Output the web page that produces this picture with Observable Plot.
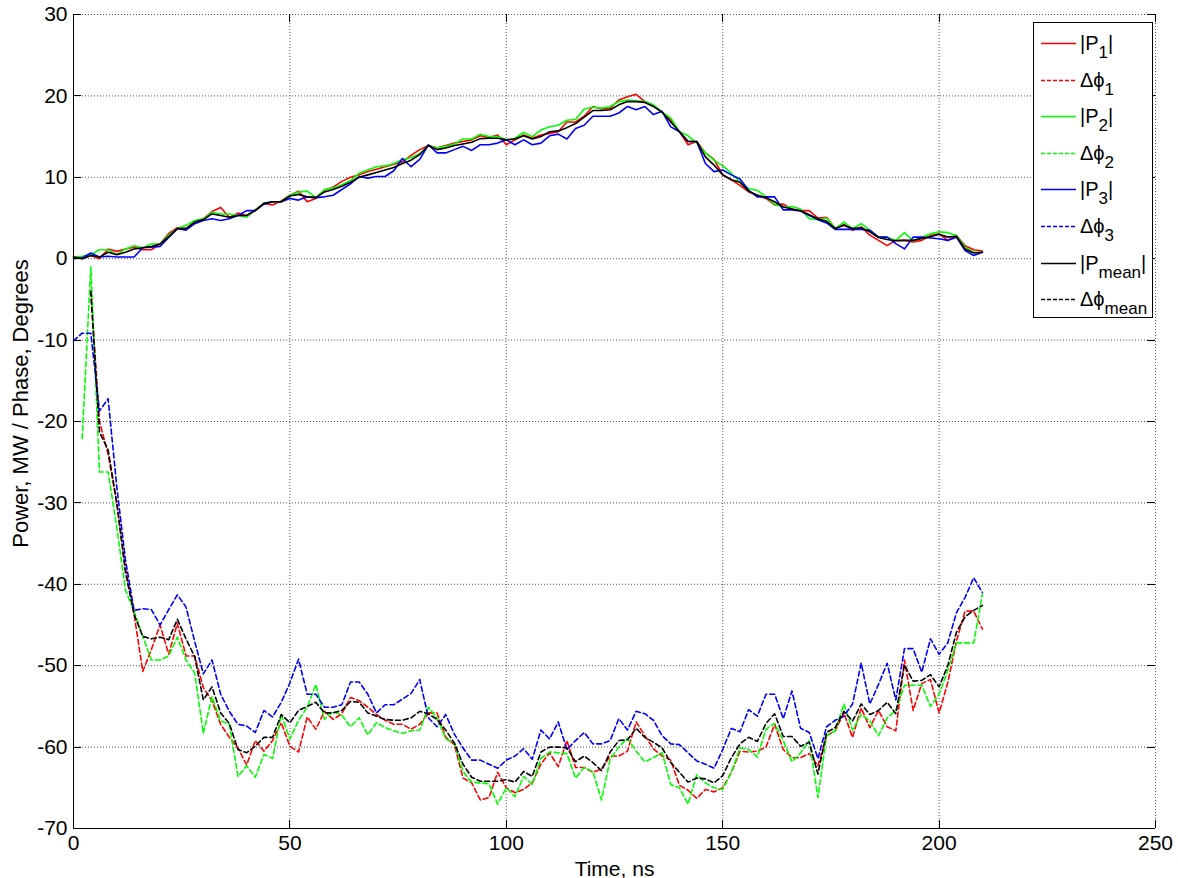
<!DOCTYPE html>
<html><head><meta charset="utf-8">
<script src="https://cdn.jsdelivr.net/npm/d3@7"></script>
<script src="https://cdn.jsdelivr.net/npm/@observablehq/plot@0.6"></script>
<style>
body{margin:0;background:#fff;font-family:"Liberation Sans",Arial,sans-serif}
#wrap{position:relative;width:1178px;height:878px;overflow:hidden}
#legend{position:absolute;left:1033px;top:22px}
</style>
</head><body><div id="wrap"></div>
<script>
// sample times, ns (2 ns sampling)
const time = d3.range(0, 211, 2);
const xTicks = [0, 50, 100, 150, 200, 250];
const yTicks = [-70, -60, -50, -40, -30, -20, -10, 0, 10, 20, 30];

const P1 = [
 0.3,0.0,0.4,0.0,1.2,0.9,1.2,1.4,1.1,1.1,
 1.8,3.1,3.8,3.7,4.5,4.9,5.8,6.3,5.1,5.6,
 5.3,6.0,6.8,6.6,7.1,7.8,8.3,7.0,7.4,8.4,
 8.8,9.5,10.0,10.3,10.7,11.0,11.3,11.6,11.9,12.7,
 13.4,13.9,13.6,13.9,14.2,14.4,14.6,15.1,14.9,15.2,
 14.0,14.6,15.2,14.8,15.2,15.4,15.6,16.8,16.8,17.5,
 18.7,18.4,18.5,19.5,19.9,20.2,19.3,18.8,18.0,17.0,
 15.6,14.0,14.4,13.0,12.2,10.3,9.7,9.0,8.2,7.8,
 7.4,6.6,6.7,6.1,5.9,5.9,5.0,5.1,3.7,4.2,
 3.5,3.9,2.9,2.25,1.6,2.25,2.25,2.05,2.25,2.85,
 3.05,2.25,2.85,1.6,1.1,0.95];
const P2 = [
 0.2,0.3,0.5,1.1,1.1,0.5,1.2,1.6,1.35,1.8,
 1.8,2.9,3.7,4.1,4.7,4.9,5.7,5.5,5.5,5.3,
 5.1,6.0,6.8,7.0,7.0,7.8,8.2,8.3,7.5,8.5,
 8.7,9.1,9.6,10.5,10.9,11.3,11.4,11.7,12.2,12.4,
 12.9,13.9,13.6,13.8,14.1,14.7,14.7,15.3,15.0,15.0,
 14.6,14.8,15.5,15.0,15.8,16.2,16.4,17.0,17.1,18.4,
 18.6,18.5,18.7,19.3,19.5,19.4,19.3,18.9,18.0,17.3,
 15.6,15.1,14.2,13.0,12.1,11.4,10.5,9.4,8.6,8.4,
 7.6,6.7,6.35,6.4,6.1,4.9,4.8,5.0,3.7,4.5,
 3.7,4.3,3.5,2.65,2.65,2.25,3.2,2.2,2.65,3.05,
 3.3,3.2,2.85,1.4,0.8,0.8];
const P3 = [
 0.0,0.1,0.7,0.2,0.3,0.2,0.2,0.2,1.35,1.4,
 1.5,2.6,3.7,3.5,4.3,4.7,4.9,4.7,4.9,5.3,
 5.9,5.9,6.7,7.0,7.0,7.4,7.2,7.6,7.5,7.6,
 7.8,8.5,9.2,10.1,9.9,10.1,10.1,10.8,12.3,11.3,
 12.2,14.0,13.0,13.0,13.4,13.8,13.3,14.0,14.0,14.2,
 14.6,14.0,14.6,14.0,14.2,15.1,15.3,14.7,16.0,16.4,
 17.5,17.5,17.5,17.9,18.7,18.3,18.7,17.7,18.1,16.2,
 15.6,14.4,14.4,11.7,10.7,10.9,10.3,9.8,8.4,7.6,
 7.6,7.6,6.0,6.0,5.85,5.3,4.8,4.4,3.6,3.6,
 3.6,3.6,3.5,2.65,2.65,1.85,1.2,2.65,2.65,2.55,
 2.45,2.25,2.65,1.0,0.4,0.8];
const Pmean = [
 0.2,0.0,0.4,0.2,0.8,0.5,0.8,1.2,1.35,1.5,
 1.8,2.7,3.7,3.7,4.5,4.8,5.5,5.3,5.1,5.3,
 5.3,5.9,6.8,7.0,7.0,7.7,7.9,7.6,7.5,8.2,
 8.5,8.9,9.4,10.0,10.3,10.6,10.9,11.2,11.7,12.1,
 12.8,13.9,13.4,13.6,13.9,14.1,14.3,14.75,14.8,14.8,
 14.6,14.7,15.1,14.7,15.0,15.6,15.7,16.1,16.6,17.4,
 18.2,18.2,18.3,18.9,19.3,19.3,19.2,18.7,18.0,16.8,
 15.6,14.4,14.4,12.5,11.5,10.3,9.7,9.4,8.3,7.8,
 7.5,7.0,6.35,6.1,5.9,5.4,4.9,4.6,3.7,4.1,
 3.7,3.8,3.3,2.6,2.35,2.2,2.25,2.25,2.5,2.7,
 3.0,2.65,2.75,1.2,0.7,0.8];

const phi1 = [
 null,null,-4,-20,-24,-30,-38,-43.7,-50.7,-48,
 -45,-48.6,-44.8,-48.8,-48.8,-52.7,-54.3,-57.2,-58.8,-60.1,
 -62.2,-59.2,-60.5,-59.2,-57.0,-59.9,-60.6,-56.3,-57.8,-55.6,
 -56.6,-55.9,-53.9,-54.3,-55.1,-56.0,-56.7,-57.2,-57.2,-57.8,
 -57.2,-55.8,-55.8,-58.8,-59.7,-63.8,-64.4,-66.5,-66.2,-63.1,
 -65.0,-65.6,-65.2,-64.4,-62.1,-60.7,-62.4,-59.2,-62.5,-62.5,
 -63.1,-62.7,-61.1,-61.1,-60.5,-56.9,-58.6,-60.2,-61.1,-61.6,
 -64.7,-65.3,-66.3,-65.2,-65.5,-65.0,-63.1,-60.5,-60.6,-60.5,
 -60.0,-57.2,-60.3,-61.3,-61.3,-60.8,-62.3,-58.6,-58.0,-55.8,
 -58.8,-55.2,-57.6,-55.5,-57.5,-58.0,-49.3,-55.5,-52.2,-51.7,
 -55.8,-52.1,-47.0,-43.3,-43.3,-45.5];
const phi2 = [
 null,-22.1,-1.0,-26.2,-26.2,-33,-40.7,-43.3,-46.4,-49.3,
 -49.3,-48.8,-46.5,-49.3,-50.9,-58.3,-53.8,-56.8,-57.2,-63.6,
 -62.3,-63.7,-60.9,-61.4,-56.0,-59.0,-56.7,-55.1,-52.3,-56.6,
 -55.6,-56.1,-57.5,-56.4,-58.5,-57.0,-57.6,-58.0,-58.3,-58.0,
 -57.9,-55.1,-56.4,-59.0,-59.5,-63.0,-64.3,-64.4,-64.5,-67.0,
 -65.0,-66.1,-63.6,-64.6,-61.4,-60.6,-60.7,-60.8,-63.8,-62.5,
 -63.0,-66.5,-61.5,-60.0,-58.9,-60.5,-61.8,-61.3,-60.7,-64.6,
 -65.0,-67.0,-63.4,-64.4,-65.0,-65.2,-63.1,-60.1,-60.3,-61.2,
 -57.8,-57.1,-59.2,-61.8,-60.7,-59.2,-66.2,-58.6,-58.0,-54.7,
 -57.9,-56.0,-56.8,-58.6,-56.4,-55.5,-52.4,-52.4,-52.4,-55.0,
 -53.5,-50.6,-47.2,-47.2,-47.2,-41.2];
const phi3 = [
 -10.1,-9.15,-9.15,-18.7,-17.2,-28,-37,-43.2,-43.0,-43.1,
 -45.0,-43.1,-41.3,-42.8,-47.0,-51.0,-49.3,-53.5,-55.6,-57.2,
 -57.4,-58.2,-55.5,-56.3,-54.5,-52.1,-49.2,-53.5,-53.5,-55.1,
 -55.1,-54.8,-52.0,-52.0,-53.5,-55.8,-54.8,-54.8,-54.1,-53.4,
 -51.7,-56.4,-57.5,-56.0,-58.4,-60.1,-61.6,-61.6,-62.1,-62.6,
 -61.6,-61.1,-60.2,-61.5,-57.9,-59.0,-56.9,-60.3,-59.2,-58.2,
 -59.6,-59.6,-59.2,-56.5,-57.9,-55.6,-55.9,-56.7,-58.6,-59.6,
 -59.7,-60.7,-61.7,-62.1,-62.6,-60.3,-57.7,-58.1,-55.4,-56.2,
 -53.5,-53.5,-56.5,-53.1,-57.7,-58.2,-61.4,-57.5,-56.7,-56.2,
 -54.7,-49.7,-54.7,-52.3,-49.7,-54.2,-47.9,-47.9,-50.8,-46.7,
 -48.6,-47.2,-43.5,-41.6,-39.2,-41.0];
const phiMean = [
 null,null,-4,-21.3,-23.5,-30,-38.5,-43.7,-46.4,-46.7,
 -46.5,-46.8,-44.3,-46.7,-48.9,-54.2,-52.6,-55.8,-57.1,-60.3,
 -60.7,-59.9,-58.8,-58.8,-56.0,-57.0,-55.5,-55.0,-54.5,-55.8,
 -55.8,-55.5,-54.4,-54.5,-55.8,-56.2,-56.6,-56.7,-56.7,-56.4,
 -55.6,-55.9,-56.6,-57.9,-59.5,-62.1,-63.7,-64.2,-64.2,-64.2,
 -64.0,-64.3,-63.0,-63.6,-60.6,-60.0,-60.0,-60.1,-61.8,-61.1,
 -61.9,-62.9,-60.6,-59.2,-59.1,-57.7,-58.8,-59.4,-60.1,-61.9,
 -63.1,-64.3,-63.8,-63.9,-64.4,-63.5,-61.3,-59.6,-58.8,-59.3,
 -57.1,-55.9,-58.7,-58.7,-59.9,-59.4,-63.3,-58.2,-57.6,-55.6,
 -56.8,-54.7,-56.0,-55.5,-54.5,-55.9,-49.9,-51.9,-51.8,-51.1,
 -52.6,-50.0,-45.9,-44.0,-43.2,-42.6];

const seriesNames = ["|P1|", "Δϕ1", "|P2|", "Δϕ2", "|P3|", "Δϕ3", "|Pmean|", "Δϕmean"];
const seriesValues = [P1, phi1, P2, phi2, P3, phi3, Pmean, phiMean];
const seriesColors = ["#ff0000", "#ff0000", "#00ff00", "#00ff00", "#0000ff", "#0000ff", "#000000", "#000000"];
const seriesDashed = [false, true, false, true, false, true, false, true];
const legendMain = ["|P", "Δϕ", "|P", "Δϕ", "|P", "Δϕ", "|P", "Δϕ"];
const legendSub = ["1", "1", "2", "2", "3", "3", "mean", "mean"];
const legendTail = ["|", "", "|", "", "|", "", "|", ""];

const FONT = "'Liberation Sans', Arial, sans-serif";
const FS = 21;

const lineMarks = seriesValues.map((vals, k) => {
  const data = [];
  vals.forEach((v, i) => { if (v != null) data.push({t: time[i], v}); });
  return Plot.line(data, {
    x: "t", y: "v", stroke: seriesColors[k], strokeWidth: 1.6,
    strokeDasharray: seriesDashed[k] ? "5,3" : null
  });
});

const chart = Plot.plot({
  width: 1178, height: 878,
  marginLeft: 73, marginRight: 23, marginTop: 14, marginBottom: 50,
  style: {fontFamily: FONT, fontSize: FS + "px", background: "#fff", color: "#000"},
  x: {domain: [0, 250], ticks: xTicks},
  y: {domain: [-70, 30], ticks: yTicks},
  marks: [
    Plot.gridX(xTicks, {stroke: "#555", strokeOpacity: 1, strokeWidth: 1, strokeDasharray: "1,2"}),
    Plot.gridY(yTicks, {stroke: "#555", strokeOpacity: 1, strokeWidth: 1, strokeDasharray: "1,2"}),
    Plot.axisX(xTicks, {tickSize: 0, tickPadding: 7, fontSize: FS, label: null, tickFormat: d => String(d)}),
    Plot.axisY(yTicks, {tickSize: 0, tickPadding: 6, fontSize: FS, label: null, tickFormat: d => String(d)}),
    Plot.ruleX([0], {stroke: "#000", strokeWidth: 1}),
    Plot.ruleY([-70], {stroke: "#000", strokeWidth: 1}),
    ...lineMarks,
    Plot.text(["Time, ns"], {frameAnchor: "bottom", dy: 47, fontSize: FS, fill: "#000", textAnchor: "middle"}),
    Plot.text(["Power, MW / Phase, Degrees"], {frameAnchor: "left", dx: -53, dy: -18, rotate: -90, textAnchor: "middle", fontSize: 22, fill: "#000"})
  ]
});

// inward tick marks using the plot's own scales
const sx = chart.scale("x"), sy = chart.scale("y");
const svg = d3.select(chart);
const tg = svg.append("g").attr("stroke", "#000").attr("stroke-width", 1);
const x0 = sx.apply(0), x1 = sx.apply(250), y0 = sy.apply(-70), y1 = sy.apply(30);
xTicks.forEach(t => {
  const x = Math.round(sx.apply(t)) + 0.5;
  tg.append("line").attr("x1", x).attr("x2", x).attr("y1", y0).attr("y2", y0 - 8);
  tg.append("line").attr("x1", x).attr("x2", x).attr("y1", y1).attr("y2", y1 + 8);
});
yTicks.forEach(v => {
  const y = Math.round(sy.apply(v)) + 0.5;
  tg.append("line").attr("x1", x0).attr("x2", x0 + 8).attr("y1", y).attr("y2", y);
  tg.append("line").attr("x1", x1).attr("x2", x1 - 8).attr("y1", y).attr("y2", y);
});

const wrap = document.getElementById("wrap");
wrap.appendChild(chart);

// legend
const LW = 120, LH = 296, rowH = 36.6, first = 21;
let lg = `<svg width="${LW}" height="${LH}" xmlns="http://www.w3.org/2000/svg" style="font-family:${FONT}">`;
lg += `<rect x="0.5" y="0.5" width="${LW - 1}" height="${LH - 1}" fill="#fff" stroke="#000" stroke-width="1"/>`;
seriesNames.forEach((n, k) => {
  const y = Math.round(first + k * rowH) + 0.5;
  lg += `<line x1="8" x2="43" y1="${y}" y2="${y}" stroke="${seriesColors[k]}" stroke-width="1.6" ${seriesDashed[k] ? 'stroke-dasharray="4,2"' : ''}/>`;
  lg += `<text x="47" y="${y + 6}" font-size="20" fill="#000">${legendMain[k]}<tspan dy="8" font-size="17">${legendSub[k]}</tspan><tspan dy="-8">${legendTail[k]}</tspan></text>`;
});
lg += `</svg>`;
const legend = document.createElement("div");
legend.id = "legend";
legend.innerHTML = lg;
wrap.appendChild(legend);
</script>
</body></html>
